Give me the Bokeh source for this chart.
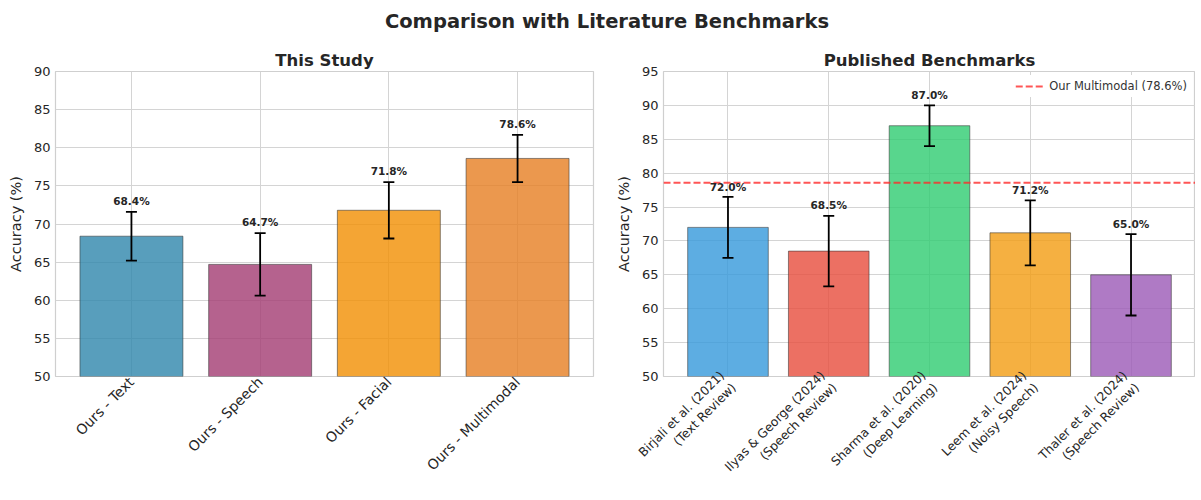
import math
from bokeh.plotting import figure
from bokeh.models import (ColumnDataSource, Whisker, TeeHead, FixedTicker, Range1d,
                          Div, Legend, LegendItem, LabelSet)
from bokeh.layouts import column, row
from bokeh.embed import file_html
from bokeh.resources import INLINE
from bokeh.core.properties import value

# ---------------- data ----------------
study_labels = ["Ours - Text", "Ours - Speech", "Ours - Facial", "Ours - Multimodal"]
study_acc = [68.4, 64.7, 71.8, 78.6]
study_err = [3.2, 4.1, 3.7, 3.1]
study_colors = ["#2E86AB", "#A23B72", "#F18F01", "#E67E22"]

bench_labels = ["Birjali et al. (2021)\n(Text Review)",
                "Ilyas & George (2024)\n(Speech Review)",
                "Sharma et al. (2020)\n(Deep Learning)",
                "Leem et al. (2024)\n(Noisy Speech)",
                "Thaler et al. (2024)\n(Speech Review)"]
bench_acc = [72.0, 68.5, 87.0, 71.2, 65.0]
bench_err = [4.5, 5.2, 3.0, 4.8, 6.0]
bench_colors = ["#3498DB", "#E74C3C", "#2ECC71", "#F39C12", "#9B59B6"]

our_multimodal = 78.6
legend_text = "Our Multimodal (78.6%)"

FONT = "DejaVu Sans"
TXT = "#262626"
FIG_H = 456
BOTTOM = 124


def make_panel(title, labels, acc, err, colors, y_end, width, border_left, border_right,
               xlabel_size):
    n = len(labels)
    xs = list(range(n))
    pad = (n - 1 + 0.8) * 0.05 + 0.4
    p = figure(width=width, height=FIG_H, output_backend="svg", toolbar_location=None,
               x_range=Range1d(-pad, n - 1 + pad), y_range=Range1d(50, y_end),
               min_border_left=border_left, min_border_right=border_right,
               min_border_top=27, min_border_bottom=BOTTOM, title=title)
    p.title.text_font = FONT
    p.title.text_font_size = "16.5px"
    p.title.text_font_style = "bold"
    p.title.text_color = TXT
    p.title.align = "center"
    p.title.standoff = 3

    src = ColumnDataSource(dict(
        x=xs, top=acc, color=colors,
        upper=[a + e for a, e in zip(acc, err)],
        lower=[a - e for a, e in zip(acc, err)],
        ly=[a + e + 0.5 for a, e in zip(acc, err)],
        txt=[f"{a:.1f}%" for a in acc]))

    p.vbar(x="x", top="top", bottom=50, width=0.8, source=src, fill_color="color",
           fill_alpha=0.8, line_color="#333333", line_alpha=0.55, line_width=1)

    wh = Whisker(base="x", upper="upper", lower="lower", source=src,
                 line_color="black", line_width=1.8, level="annotation",
                 upper_head=TeeHead(size=11, line_color="black", line_width=1.8),
                 lower_head=TeeHead(size=11, line_color="black", line_width=1.8))
    p.add_layout(wh)

    ls = LabelSet(x="x", y="ly", text="txt", source=src, text_align="center",
                  text_baseline="bottom", text_font=value(FONT),
                  text_font_size="10.5px", text_font_style="bold", text_color=TXT,
                  y_offset=1)
    p.add_layout(ls)

    p.xaxis.ticker = FixedTicker(ticks=xs)
    p.xaxis.major_label_overrides = {i: l for i, l in enumerate(labels)}
    p.xaxis.major_label_orientation = math.pi / 4
    p.yaxis.ticker = FixedTicker(ticks=list(range(50, y_end + 1, 5)))
    p.yaxis.axis_label = "Accuracy (%)"
    p.yaxis.axis_label_text_font = FONT
    p.yaxis.axis_label_text_font_size = "14.5px"
    p.yaxis.axis_label_text_font_style = "normal"
    p.yaxis.axis_label_text_color = TXT
    p.yaxis.axis_label_standoff = 7
    for ax in (p.xaxis, p.yaxis):
        ax.major_label_text_font = FONT
        ax.major_label_text_color = TXT
        ax.axis_line_color = None
        ax.major_tick_line_color = None
        ax.minor_tick_line_color = None
        ax.major_tick_out = 0
        ax.major_tick_in = 0
    p.yaxis.major_label_text_font_size = "13px"
    p.yaxis.major_label_standoff = 5
    p.xaxis.major_label_text_font_size = xlabel_size
    p.xaxis.major_label_standoff = 3
    p.xgrid.grid_line_color = "#d4d4d4"
    p.ygrid.grid_line_color = "#d4d4d4"
    p.outline_line_color = "#cfcfcf"
    p.outline_line_width = 1.2
    p.background_fill_color = "white"
    return p


p1 = make_panel("This Study", study_labels, study_acc, study_err, study_colors,
                90, 608, 55, 15, "14px")
p2 = make_panel("Published Benchmarks", bench_labels, bench_acc, bench_err, bench_colors,
                95, 587, 55, 0, "12.3px")

# reference line spanning the full x-axis of the benchmark panel
ref_line = p2.line(x=[p2.x_range.start, p2.x_range.end],
                   y=[our_multimodal, our_multimodal],
                   line_color="#ff2a2a", line_alpha=0.8, line_width=2, line_dash="7 3")
leg = Legend(items=[LegendItem(label=legend_text, renderers=[ref_line])],
             location="top_right", label_text_font=FONT, label_text_font_size="11.5px",
             label_text_color="#333333", border_line_alpha=0, background_fill_alpha=1,
             glyph_width=28, glyph_height=14, label_standoff=6, margin=4, padding=4,
             label_height=14)
p2.add_layout(leg)

title = Div(text="Comparison with Literature Benchmarks", width=1195, height=44,
            styles={"text-align": "center", "font-family": "'DejaVu Sans'",
                    "font-size": "19.5px", "font-weight": "bold", "color": TXT,
                    "line-height": "44px", "margin": "0", "padding-left": "19px",
                    "box-sizing": "border-box"})

layout = column(title, row(p1, p2))
open("out.html", "w").write(file_html(layout, INLINE))
